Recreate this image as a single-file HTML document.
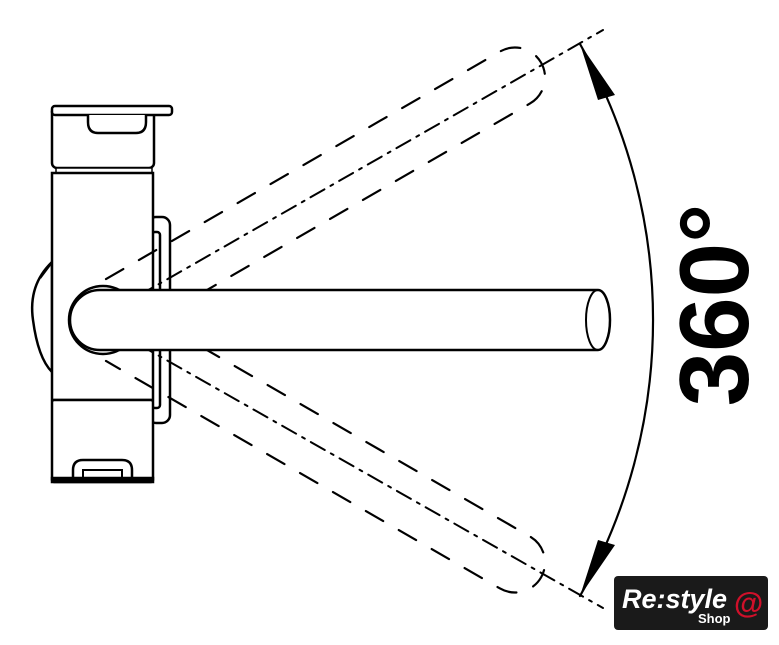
<!DOCTYPE html>
<html><head><style>
body{margin:0;background:#fff;width:779px;height:640px;overflow:hidden}
</style></head><body>
<svg width="779" height="640" viewBox="0 0 779 640" xmlns="http://www.w3.org/2000/svg" font-family="Liberation Sans, sans-serif">
<g fill="#fff" stroke="#000" stroke-width="2.5">
 <!-- side bracket -->
 <rect x="148" y="217" width="22" height="206" rx="8"/>
 <rect x="152" y="232" width="8" height="176" rx="3"/>
 <!-- left knob -->
 <path d="M52 262 Q28 285 33 320 Q38 358 52 372 Z"/>
 <path d="M52 262 L40 278" fill="none"/>
 <!-- top cap -->
 <rect x="52" y="107" width="102" height="61" rx="5"/>
 <rect x="52" y="106" width="120" height="9" rx="3"/>
 <path d="M88 115 V122 Q88 133 98 133 H136 Q146 133 146 122 V115" />
 <rect x="56" y="168" width="96" height="5" stroke-width="1.5"/>
 <!-- body -->
 <rect x="52" y="173" width="101" height="227"/>
 <!-- bottom -->
 <rect x="52" y="400" width="101" height="82" rx="2"/>
 <path d="M73 480 V470 Q73 460 83 460 H122 Q132 460 132 470 V480"/>
 <path d="M83 480 V470 H122 V480" stroke-width="2"/>
 <rect x="52" y="478" width="101" height="4" fill="#000"/>
</g>
<g fill="none" stroke="#000" stroke-width="2.5" stroke-linecap="round">
<g stroke-dasharray="20,18" stroke-width="2.2">
 <g transform="rotate(-30 95 320)">
  <path d="M125 290 H580 A30 30 0 0 1 580 350 H125"/>
 </g>
 <g transform="rotate(30 95 320)">
  <path d="M125 290 H580 A30 30 0 0 1 580 350 H125"/>
 </g>
</g>
<g stroke-dasharray="16,7,3,7" stroke-width="2">
 <line x1="110" y1="312" x2="603" y2="30"/>
 <line x1="110" y1="328" x2="603" y2="608"/>
</g>
<path d="M580 44 A558 558 0 0 1 580 596" stroke-width="2.2"/>
</g>
<polygon points="580,44 615,95 598,100" fill="#000"/>
<polygon points="580,596 615,545 598,540" fill="#000"/>
<g fill="#fff" stroke="#000" stroke-width="2.5">
 <circle cx="103" cy="320" r="34"/>
 <path d="M100 290 H598 A12 30 0 0 1 598 350 H100 A30 30 0 0 1 100 290 Z"/>
 <path d="M598 290 A12 30 0 0 0 598 350" fill="none" stroke-width="2"/>
</g>
<text transform="translate(748 305) rotate(-90)" text-anchor="middle" font-size="98" font-weight="bold" fill="#000">360°</text>
<rect x="614" y="576" width="154" height="54" rx="4" fill="#1a1a1a"/>
<text x="622" y="608" font-size="27" font-style="italic" font-weight="bold" fill="#fff">Re:style</text>
<text x="698" y="623" font-size="13" font-weight="bold" fill="#fff">Shop</text>
<text x="734" y="613" font-size="30" font-weight="bold" fill="#d0102a">@</text>
</svg>
</body></html>
